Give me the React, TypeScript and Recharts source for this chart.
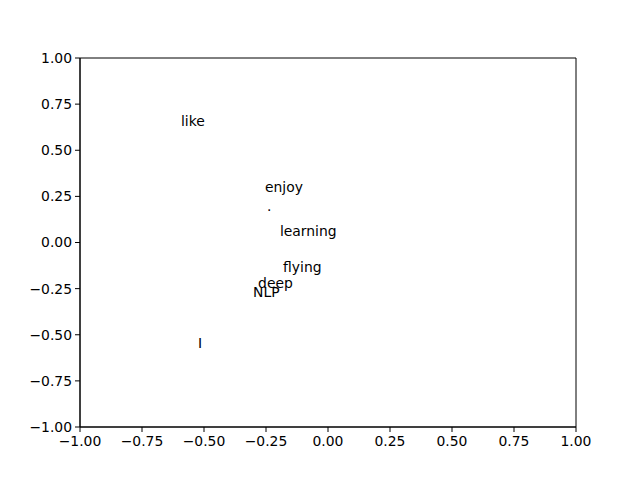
import React from "react";
import { ScatterChart, Scatter, XAxis, YAxis, ReferenceArea } from "recharts";

const words = ["like", "enjoy", ".", "learning", "flying", "deep", "NLP", "I"];
const xValues = [-0.593, -0.254, -0.246, -0.194, -0.181, -0.282, -0.302, -0.524];
const yValues = [0.631, 0.274, 0.171, 0.035, -0.16, -0.247, -0.295, -0.572];
const ticks = [-1, -0.75, -0.5, -0.25, 0, 0.25, 0.5, 0.75, 1];

const data = words.map((w, i) => ({ word: w, x: xValues[i], y: yValues[i] }));

const fmt = (v: number) => v.toFixed(2).replace("-", "\u2212");

const font = "DejaVu Sans";

const WordLabel = (props: any) => {
  const { cx, cy, payload } = props;
  return (
    <text x={cx} y={cy} fontFamily={font} fontSize={13.9} fill="#000" textAnchor="start">
      {payload.word}
    </text>
  );
};

const App: React.FC = () => {
  return (
    <div style={{ position: "absolute", left: 0, top: 0, background: "#fff" }}>
      <ScatterChart width={640} height={480} margin={{ top: 58, right: 64, bottom: 0, left: 0 }}>
        <XAxis
          type="number"
          dataKey="x"
          domain={[-1, 1]}
          ticks={ticks}
          tickFormatter={fmt}
          height={53}
          tickSize={5}
          tickMargin={4}
          stroke="#000"
          tick={{ fill: "#000", fontFamily: font, fontSize: 13.9 }}
          allowDataOverflow
        />
        <YAxis
          type="number"
          dataKey="y"
          domain={[-1, 1]}
          ticks={ticks}
          tickFormatter={fmt}
          width={80}
          tickSize={5}
          tickMargin={3}
          stroke="#000"
          tick={{ fill: "#000", fontFamily: font, fontSize: 13.9 }}
          allowDataOverflow
        />
        <ReferenceArea x1={-1} x2={1} y1={-1} y2={1} fill="none" stroke="#000" strokeWidth={1} />
        <Scatter data={data} shape={<WordLabel />} isAnimationActive={false} />
      </ScatterChart>
    </div>
  );
};

export default App;
